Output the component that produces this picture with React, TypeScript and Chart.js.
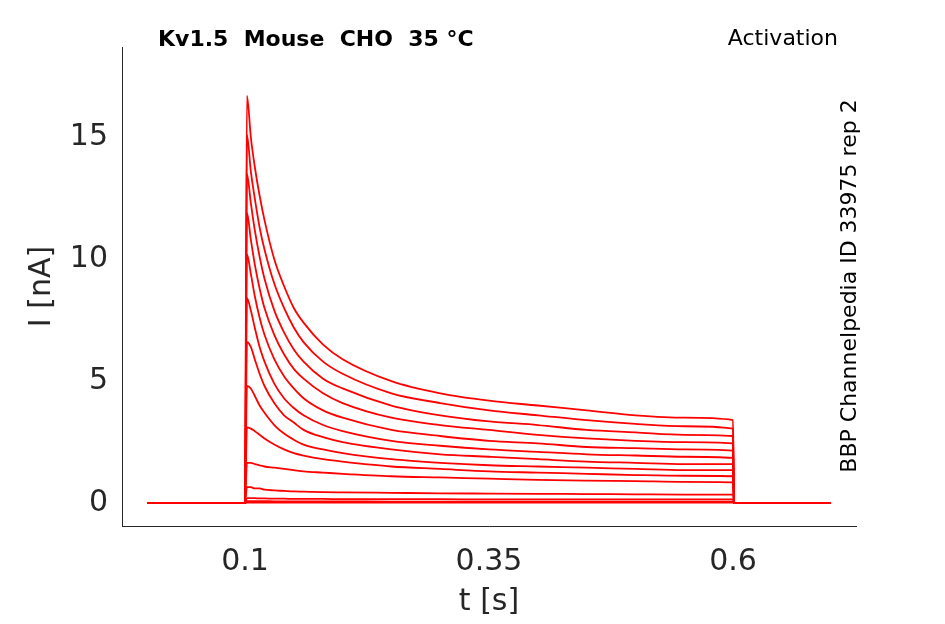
import React, { useEffect, useRef } from "react";
import { Chart, registerables } from "chart.js";
Chart.register(...registerables);

const times = [0, 0.099, 0.1, 0.102, 0.106, 0.11, 0.115, 0.12, 0.13, 0.14, 0.15, 0.16, 0.18, 0.2, 0.25, 0.3, 0.35, 0.4, 0.45, 0.5, 0.55, 0.6, 0.601, 0.7];
const baseBefore = [0, 0, 0];
const baseAfter = [0, 0];
const trace1 = [16.7, 15.0, 13.8, 12.6, 11.6, 10.0, 8.9, 8.0, 7.4, 6.5, 5.9, 5.0, 4.5, 4.2, 4.0, 3.8, 3.6, 3.5, 3.4];
const trace2 = [15.1, 13.6, 12.5, 11.3, 10.4, 9.0, 8.0, 7.2, 6.6, 5.8, 5.3, 4.5, 4.1, 3.8, 3.6, 3.4, 3.25, 3.15, 3.05];
const trace3 = [13.5, 12.3, 11.2, 10.1, 9.2, 7.9, 7.0, 6.3, 5.8, 5.1, 4.7, 4.0, 3.6, 3.35, 3.2, 3.0, 2.9, 2.8, 2.75];
const trace4 = [11.9, 10.8, 9.8, 8.8, 8.0, 6.9, 6.1, 5.5, 5.1, 4.5, 4.1, 3.5, 3.2, 3.0, 2.8, 2.65, 2.55, 2.5, 2.45];
const trace5 = [10.2, 9.4, 8.5, 7.6, 6.9, 5.9, 5.2, 4.7, 4.3, 3.8, 3.5, 3.0, 2.75, 2.55, 2.45, 2.3, 2.25, 2.2, 2.15];
const trace6 = [8.4, 7.9, 7.2, 6.4, 5.8, 4.9, 4.3, 3.9, 3.6, 3.2, 2.95, 2.55, 2.35, 2.2, 2.1, 2.0, 1.95, 1.9, 1.85];
const trace7 = [6.6, 6.4, 5.9, 5.3, 4.8, 4.1, 3.6, 3.3, 3.0, 2.7, 2.5, 2.2, 2.0, 1.9, 1.8, 1.7, 1.65, 1.6, 1.6];
const trace8 = [4.8, 4.7, 4.4, 4.0, 3.7, 3.2, 2.85, 2.6, 2.4, 2.2, 2.05, 1.8, 1.65, 1.55, 1.5, 1.45, 1.4, 1.35, 1.35];
const trace9 = [3.1, 3.05, 2.95, 2.8, 2.65, 2.4, 2.2, 2.05, 1.95, 1.8, 1.7, 1.5, 1.4, 1.3, 1.25, 1.2, 1.15, 1.12, 1.1];
const trace10 = [1.65, 1.65, 1.6, 1.55, 1.5, 1.45, 1.4, 1.35, 1.3, 1.25, 1.2, 1.1, 1.05, 1.0, 0.95, 0.92, 0.9, 0.87, 0.85];
const trace11 = [0.65, 0.65, 0.6, 0.6, 0.55, 0.52, 0.5, 0.48, 0.47, 0.45, 0.44, 0.42, 0.4, 0.39, 0.38, 0.37, 0.36, 0.35, 0.35];
const trace12 = [0.2, 0.2, 0.2, 0.19, 0.19, 0.18, 0.18, 0.17, 0.17, 0.17, 0.16, 0.16, 0.16, 0.15, 0.15, 0.15, 0.15, 0.15, 0.15];
const trace13 = [0.08, 0.08, 0.08, 0.08, 0.08, 0.07, 0.07, 0.07, 0.07, 0.07, 0.07, 0.06, 0.06, 0.06, 0.06, 0.06, 0.06, 0.06, 0.06];
const trace14 = [0.02, 0.02, 0.02, 0.02, 0.02, 0.02, 0.02, 0.02, 0.02, 0.02, 0.02, 0.02, 0.02, 0.02, 0.02, 0.02, 0.02, 0.02, 0.02];
const traces = [trace1, trace2, trace3, trace4, trace5, trace6, trace7, trace8, trace9, trace10, trace11, trace12, trace13, trace14];
const xTicks = [0.1, 0.35, 0.6];
const yTicks = [0, 5, 10, 15];
const title = "Kv1.5  Mouse  CHO  35 °C";
const subtitle = "Activation";
const sideText = "BBP Channelpedia ID 33975 rep 2";

const FONT = "'DejaVu Sans', sans-serif";

export default function App() {
  const ref = useRef<HTMLCanvasElement>(null);
  useEffect(() => {
    const textPlugin = {
      id: "texts",
      afterDraw(chart: any) {
        const ctx = chart.ctx;
        ctx.save();
        ctx.fillStyle = "#000";
        ctx.textBaseline = "middle";
        ctx.font = `bold 22px ${FONT}`;
        ctx.textAlign = "left";
        ctx.fillText(title, 158, 40);
        ctx.font = `22px ${FONT}`;
        ctx.textAlign = "right";
        ctx.fillText(subtitle, 838, 39);
        ctx.translate(850, 286);
        ctx.rotate(-Math.PI / 2);
        ctx.textAlign = "center";
        ctx.fillText(sideText, 0, 0);
        ctx.restore();
      },
    };
    const chart = new Chart(ref.current!, {
      type: "line",
      data: {
        datasets: traces.map((tr) => ({
          data: times.map((t, i) => ({ x: t, y: [...baseBefore, ...tr, ...baseAfter][i] })),
          borderColor: "#ff0000",
          borderWidth: 1.8,
          pointRadius: 0,
          cubicInterpolationMode: "monotone" as const,
        })),
      },
      options: {
        animation: false,
        responsive: false,
        layout: { padding: { top: 47, right: 89, left: 0, bottom: 0 } },
        plugins: { legend: { display: false }, tooltip: { enabled: false } },
        scales: {
          x: {
            type: "linear",
            min: -0.026,
            max: 0.726,
            grid: { display: false, drawTicks: true, tickLength: 0 },
            border: { color: "#262626" },
            afterBuildTicks: (s: any) => { s.ticks = xTicks.map((v) => ({ value: v })); },
            afterFit: (s: any) => { s.height = 98; },
            ticks: { color: "#262626", font: { family: FONT, size: 30 }, padding: 18, maxRotation: 0, callback: (v: any) => String(v) },
            title: { display: true, text: "t [s]", color: "#262626", font: { family: FONT, size: 30 }, padding: { top: 0 } },
          },
          y: {
            type: "linear",
            min: -0.94,
            max: 18.7,
            grid: { display: false, tickLength: 0 },
            border: { color: "#262626" },
            afterBuildTicks: (s: any) => { s.ticks = yTicks.map((v) => ({ value: v })); },
            afterFit: (s: any) => { s.width = 122; },
            ticks: { color: "#262626", font: { family: FONT, size: 30 }, padding: 14 },
            title: { display: true, text: "I [nA]", color: "#262626", font: { family: FONT, size: 30 }, padding: { bottom: 0, top: 24 } },
          },
        },
      },
      plugins: [textPlugin],
    });
    return () => chart.destroy();
  }, []);
  return (
    <div style={{ position: "absolute", left: 0, top: 0, width: 945, height: 624, background: "#fff" }}>
      <canvas ref={ref} width={945} height={624} />
    </div>
  );
}
